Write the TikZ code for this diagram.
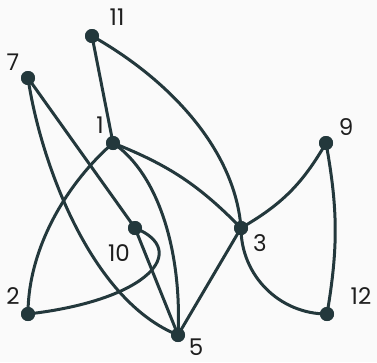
\documentclass[tikz,border=0pt]{standalone}
\usepackage{fontspec}
\setmainfont{Poppins}
\definecolor{edgec}{RGB}{35,56,60}
\definecolor{bgc}{RGB}{250,250,250}
\definecolor{txtc}{RGB}{30,30,30}
\begin{document}
\begin{tikzpicture}[x=1pt,y=-1pt,
  vtx/.style={circle,fill=edgec,inner sep=0pt,minimum size=14pt},
  lbl/.style={text=txtc,font=\fontsize{23}{23}\selectfont,inner sep=0pt},
  edge/.style={draw=edgec,line width=3pt}]
\fill[bgc] (0,0) rectangle (377,362);
\useasboundingbox (0,0) rectangle (377,362);
\node[vtx] (n11) at (92,36) {};
\node[vtx] (n7) at (28,78) {};
\node[vtx] (n1) at (113,143) {};
\node[vtx] (n9) at (326,143) {};
\node[vtx] (n10) at (135,228) {};
\node[vtx] (n3) at (241,228) {};
\node[vtx] (n2) at (28,314) {};
\node[vtx] (n5) at (178,335) {};
\node[vtx] (n12) at (327,314) {};
\node[lbl] at (117,17) {11};
\node[lbl] at (13,62) {7};
\node[lbl] at (100,125) {1};
\node[lbl] at (346,127) {9};
\node[lbl] at (119,253) {10};
\node[lbl] at (260,243) {3};
\node[lbl] at (13,296) {2};
\node[lbl] at (196,347) {5};
\node[lbl] at (361,296) {12};
\draw[edge] (n11.center) -- (n1.center);
\draw[edge] (n11.center) .. controls (170,80) and (235,150) .. (n3.center);
\draw[edge] (n1.center) to[bend left=12] (n3.center);
\draw[edge] (n1.center) .. controls (160,175) and (182,255) .. (n5.center);
\draw[edge] (n1.center) .. controls (65,185) and (28,250) .. (n2.center);
\draw[edge] (n7.center) .. controls (40,160) and (90,300) .. (n5.center);
\draw[edge] (n7.center) -- (n10.center);
\draw[edge] (n10.center) -- (n5.center);
\draw[edge] (n10.center) .. controls (190,250) and (150,300) .. (n2.center);
\draw[edge] (n3.center) to[bend right=15] (n9.center);
\draw[edge] (n9.center) to[bend left=10] (n12.center);
\draw[edge] (n3.center) .. controls (241,275.5) and (279.5,314) .. (n12.center);
\draw[edge] (n3.center) -- (n5.center);
\foreach \n in {n11,n7,n1,n9,n10,n3,n2,n5,n12} \fill[edgec] (\n) circle (7pt);
\end{tikzpicture}
\end{document}
